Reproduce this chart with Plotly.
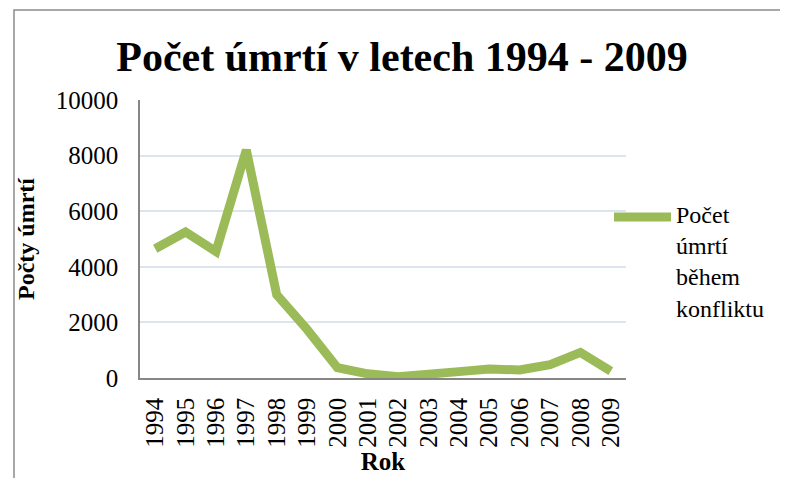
import plotly.graph_objects as go

roky = [str(r) for r in range(1994, 2010)]
umrti = [4650, 5250, 4550, 8200, 3000, 1750, 370, 150, 50, 180, 230, 320, 290, 480, 920, 250]
y_ticks = [0, 2000, 4000, 6000, 8000, 10000]
legenda = 'Počet<br>úmrtí<br>během<br>konfliktu'

W, H = 788, 478
OFF = 8  # page body margin offset
ML, MR, MT, MB = 140 - OFF, 162 + OFF, 100 - OFF, 100 + OFF
pw, ph = W - ML - MR, H - MT - MB
zelena = '#9BBB59'

serif = "'Times New Roman', 'Liberation Serif', serif"


def px(x):
    return (x - OFF - ML) / pw


def py(y):
    return (H - MB - (y - OFF)) / ph


fig = go.Figure()
fig.add_trace(go.Scatter(x=roky, y=umrti, mode='lines', name=legenda,
                         line=dict(color=zelena, width=9), showlegend=False))

# outer chart border (Excel frame)
fig.add_shape(type='rect', xref='paper', yref='paper',
              x0=px(14), x1=px(W + 30), y0=py(H + 30), y1=py(10),
              line=dict(color='#8c8c8c', width=1.5), layer='below')

# legend drawn by hand (Excel-style long line sample)
fig.add_shape(type='line', xref='paper', yref='paper',
              x0=px(614), x1=px(671), y0=py(217), y1=py(217),
              line=dict(color=zelena, width=9))
fig.add_annotation(xref='paper', yref='paper', x=px(674), y=py(262),
                   xanchor='left', yanchor='middle', align='left', showarrow=False,
                   text=legenda, font=dict(size=24, family=serif, color='black'))

fig.update_layout(
    width=W, height=H,
    margin=dict(l=ML, r=MR, t=MT, b=MB, autoexpand=False),
    paper_bgcolor='white', plot_bgcolor='white',
    font=dict(family=serif, size=25, color='black'),
    title=dict(text='<b>Počet úmrtí v letech 1994 - 2009</b>', x=px(W / 2 + 8),
               xref='paper', xanchor='center',
               y=1 - (56 - OFF) / H, yanchor='middle', font=dict(size=42, family=serif)),
    showlegend=False,
    xaxis=dict(type='category', range=[-0.5, 15.5], tickangle=-90, showgrid=False,
               showline=True, linecolor='#868686', linewidth=1.5, automargin=False,
               ticks='', ticklabelstandoff=8,
               tickfont=dict(size=25, family=serif, color='black'),
               title=dict(text='<b>Rok</b>', font=dict(size=25, family=serif), standoff=4)),
    yaxis=dict(range=[0, 10000], tickvals=y_ticks, tickformat='d', showgrid=True,
               gridcolor='#DCE4F0', gridwidth=1.5, automargin=False,
               showline=True, linecolor='#868686', linewidth=1.5,
               ticks='', ticklabelstandoff=15,
               tickfont=dict(size=25, family=serif, color='black'), zeroline=False,
               title=dict(text='<b>Počty úmrtí</b>', font=dict(size=24, family=serif), standoff=14)),
)

fig.write_html("out.html")
